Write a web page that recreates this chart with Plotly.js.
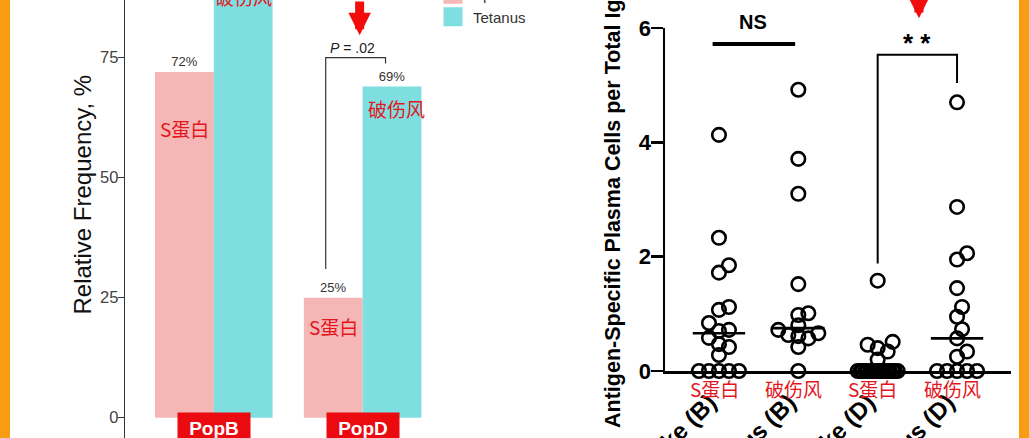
<!DOCTYPE html>
<html>
<head>
<meta charset="utf-8">
<script src="https://cdn.plot.ly/plotly-3.0.1.min.js"></script>
<style>
  html, body { margin: 0; padding: 0; background: #fff; }
  #chart { width: 1029px; height: 438px; }
</style>
</head>
<body>
<div id="chart"></div>
<script>
// left panel: share of donors with detectable antigen-specific cells
const popGroups = ['PopB', 'PopD'];
const spikeFreq = [72, 25];
const tetanusFreq = [93, 69];
const spikeFreqText = ['72%', '25%'];
const tetanusFreqText = ['93%', '69%'];
const pValueText = '<i>P</i> = .02';

// right panel: antigen-specific plasma cells per total Ig
const cellGroups = ['Spike (B)', 'Tetanus (B)', 'Spike (D)', 'Tetanus (D)'];
const spikeB = [4.13, 2.33, 1.85, 1.72, 1.12, 1.07, 0.84, 0.72, 0.70, 0.58, 0.47, 0.42, 0.28, 0, 0, 0, 0, 0];
const tetanusB = [4.92, 3.71, 3.10, 1.52, 1.01, 0.98, 0.80, 0.72, 0.66, 0.63, 0.61, 0.57, 0.42, 0];
const spikeD = [1.58, 0.51, 0.46, 0.40, 0.34, 0.20, 0, 0, 0, 0, 0, 0, 0, 0, 0, 0, 0, 0, 0, 0, 0, 0, 0, 0];
const tetanusD = [4.70, 2.87, 2.06, 1.95, 1.45, 1.12, 0.95, 0.73, 0.57, 0.34, 0.25, 0, 0, 0, 0, 0];
const medianLine = [0.66, 0.75, 0.0, 0.57];
const nsLineY = 5.72;
const starBracketY = 5.53;

// chinese call-outs drawn in red on top of the original figure
const spikeCn = 'S蛋白';
const tetanusCn = '破伤风';

const W = 1029, H = 438;
const RED = '#e3161d';
const CN_FONT = 'Noto Sans CJK SC, Liberation Sans, sans-serif';
const SANS = 'Liberation Sans, Arial, sans-serif';
const PINK = '#f4b7b6', CYAN = '#7edee0';

// left panel value axis
const yRange = [-4.23, 87.02];
// right panel geometry (used for beeswarm spacing in pixels)
const x2Dom = [665 / W, 1011 / W];
const x2Range = [-0.68, 3.68];
const y2Dom = [67 / H, 410 / H];
const y2Range = [0, 6];
const pxPerX = (x2Dom[1] - x2Dom[0]) * W / (x2Range[1] - x2Range[0]);
const pxPerY = (y2Dom[1] - y2Dom[0]) * H / (y2Range[1] - y2Range[0]);

// annotations outside an axis range get hidden, so place those in paper units
const yToPaper = v => (v - yRange[0]) / (yRange[1] - yRange[0]);
const y2ToPaper = v => y2Dom[0] + (v - y2Range[0]) / (y2Range[1] - y2Range[0]) * (y2Dom[1] - y2Dom[0]);

// prism-like dot spread: push a point sideways until it clears its neighbours,
// if no slot is free squeeze it into the widest remaining gap
function swarm(vals) {
    const STEP = 5, MAXOFF = 20, MINDIST = 10;
    const cands = [0];
    for (let k = STEP; k <= MAXOFF; k += STEP) cands.push(k, -k);
    const fine = [0];
    for (let k = 1; k <= MAXOFF; k++) fine.push(k, -k);
    const order = vals.map((v, i) => i).sort((a, b) => vals[a] - vals[b]);
    const placed = [];
    const offs = new Array(vals.length);
    const minDist = (c, y) => placed.reduce((d, p) => Math.min(d, Math.hypot(p[0] - c, p[1] - y)), Infinity);
    order.forEach(i => {
        const y = vals[i] * pxPerY;
        let best = cands.find(c => minDist(c, y) >= MINDIST);
        if (best === undefined) {
            let bestD = -1;
            fine.forEach(c => { const d = minDist(c, y); if (d > bestD) { bestD = d; best = c; } });
        }
        placed.push([best, y]);
        offs[i] = best / pxPerX;
    });
    return offs;
}

const barText = { size: 13, color: '#333', family: SANS };
const traces = [
    { type: 'bar', name: 'Spike', legendgroup: 'spike', showlegend: false, x: popGroups, y: spikeFreq,
      text: spikeFreqText, textposition: 'outside', textfont: barText, marker: { color: PINK }, xaxis: 'x', yaxis: 'y' },
    { type: 'bar', name: 'Tetanus', legendgroup: 'tetanus', showlegend: false, x: popGroups, y: tetanusFreq,
      text: tetanusFreqText, textposition: 'outside', textfont: barText, marker: { color: CYAN }, xaxis: 'x', yaxis: 'y' },
    // legend keys only (bar legend swatches are too small)
    { type: 'scatter', mode: 'markers', name: 'Spike', legendgroup: 'spike', x: [null], y: [null],
      marker: { symbol: 'square', size: 16, color: PINK, line: { width: 3, color: PINK } }, xaxis: 'x', yaxis: 'y' },
    { type: 'scatter', mode: 'markers', name: 'Tetanus', legendgroup: 'tetanus', x: [null], y: [null],
      marker: { symbol: 'square', size: 16, color: CYAN, line: { width: 3, color: CYAN } }, xaxis: 'x', yaxis: 'y' }
];

[spikeB, tetanusB, spikeD, tetanusD].forEach((vals, gi) => {
    const offs = swarm(vals);
    traces.push({
        type: 'scatter', mode: 'markers', showlegend: false, cliponaxis: false,
        x: vals.map((v, i) => gi + offs[i]), y: vals,
        marker: { symbol: 'circle-open', size: 13.5, color: '#000', line: { width: 2.6, color: '#000' } },
        xaxis: 'x2', yaxis: 'y2'
    });
    traces.push({
        type: 'scatter', mode: 'lines', showlegend: false, cliponaxis: false,
        x: [gi - 0.33, gi + 0.33], y: [medianLine[gi], medianLine[gi]],
        line: { color: '#000', width: 2.6 }, xaxis: 'x2', yaxis: 'y2'
    });
});

const bracketTop = Math.max(...tetanusFreq.slice(1)) + 6;
const shapes = [
    // orange frame strips
    { type: 'rect', xref: 'paper', yref: 'paper', x0: 0, x1: 10 / W, y0: 0, y1: 1, fillcolor: '#f89c12', line: { width: 0 } },
    { type: 'rect', xref: 'paper', yref: 'paper', x0: 1019 / W, x1: 1, y0: 0, y1: 1, fillcolor: '#f89c12', line: { width: 0 } },
    // P = .02 bracket
    { type: 'path', xref: 'x', yref: 'y', line: { color: '#333', width: 1.2 },
      path: `M 0.752,${spikeFreq[1] + 6} L 0.752,${bracketTop} L 1.154,${bracketTop} L 1.154,${bracketTop - 1.2}` },
    // NS bar
    { type: 'line', xref: 'x2', yref: 'y2', x0: -0.08, x1: 0.96, y0: nsLineY, y1: nsLineY, line: { color: '#000', width: 4 } },
    // ** bracket
    { type: 'path', xref: 'x2', yref: 'y2', line: { color: '#000', width: 2 },
      path: `M 2,${spikeD[0] + 0.3} L 2,${starBracketY} L 3,${starBracketY} L 3,${tetanusD[0] + 0.34}` }
];

const cnFont = { family: CN_FONT, size: 19, color: RED };
const mid = { xanchor: 'center', yanchor: 'middle', showarrow: false };
const annotations = [
    { ...mid, xref: 'paper', yref: 'paper', x: 82 / W, y: (H - 194.5) / H, text: 'Relative Frequency, %', textangle: -90,
      font: { family: SANS, size: 24, color: '#111' } },
    { ...mid, xref: 'paper', yref: 'paper', x: 613 / W, y: (H - 214) / H, text: 'Antigen-Specific Plasma Cells per Total Ig', textangle: -90,
      font: { family: SANS, size: 21.5, color: '#000', weight: 'bold' } },
    { ...mid, xref: 'x', yref: 'y', x: 0.93, y: 77.1, text: pValueText, font: { family: SANS, size: 14, color: '#222' } },
    { ...mid, xref: 'x', yref: 'y', x: -0.198, y: 60.2, text: spikeCn, font: cnFont },
    { ...mid, xref: 'x', yref: 'paper', x: 0.198, y: yToPaper(87.8), text: tetanusCn, font: cnFont },
    { ...mid, xref: 'x', yref: 'y', x: 0.802, y: 19.0, text: spikeCn, font: cnFont },
    { ...mid, xref: 'x', yref: 'y', x: 1.228, y: 64.4, text: tetanusCn, font: cnFont },
    // red arrows pointing at the comparisons
    { xref: 'x', yref: 'y', x: 0.98, y: 79.7, text: '', showarrow: true, ax: 0, ay: -40,
      arrowhead: 2, arrowwidth: 9, arrowsize: 0.5, arrowcolor: '#f20c0c' },
    { xref: 'x2', yref: 'paper', x: 2.52, y: y2ToPaper(6.17), text: '', showarrow: true, ax: 0, ay: -40,
      arrowhead: 2, arrowwidth: 9, arrowsize: 0.5, arrowcolor: '#f20c0c' },
    { ...mid, xref: 'x2', yref: 'paper', x: 0.43, y: y2ToPaper(6.1), text: 'NS', font: { family: SANS, size: 20, color: '#000', weight: 'bold' } },
    { ...mid, xref: 'x2', yref: 'y2', x: 2.5, y: 5.74, text: '* *', font: { family: SANS, size: 26, color: '#000', weight: 'bold' } }
];
popGroups.forEach((g, i) => {
    annotations.push({ ...mid, xref: 'x', yref: 'paper', x: i, y: (H - 428) / H, text: '<b>' + g + '</b>',
        bgcolor: '#ea0a10', borderpad: 5, width: 62, font: { family: SANS, size: 19, color: '#fff' } });
});
cellGroups.forEach((g, i) => {
    annotations.push({ ...mid, xref: 'x2', yref: 'paper', x: i - 0.06, y: y2ToPaper(-0.31),
        text: i % 2 === 0 ? spikeCn : tetanusCn, font: cnFont });
});

const layout = {
    width: W, height: H,
    margin: { l: 0, r: 0, t: 0, b: 0, autoexpand: false },
    paper_bgcolor: '#fff', plot_bgcolor: 'rgba(0,0,0,0)',
    barmode: 'group', bargap: 0.21, bargroupgap: 0,
    showlegend: true,
    legend: { x: 433 / W, xanchor: 'left', y: 1.05, yanchor: 'top', bgcolor: 'rgba(0,0,0,0)',
              font: { family: SANS, size: 15, color: '#333' }, tracegroupgap: 0 },
    xaxis: { domain: [125 / W, 437 / W], range: [-0.597, 1.5], type: 'category', anchor: 'y',
             showticklabels: false, ticks: '', showline: false, showgrid: false, zeroline: false },
    yaxis: { domain: [0, 1], range: yRange, anchor: 'x', tickvals: [0, 25, 50, 75],
             ticks: 'outside', ticklen: 6, tickwidth: 1.3, tickcolor: '#333', ticklabelstandoff: -4,
             showline: true, linecolor: '#333', linewidth: 1.3, showgrid: false, zeroline: false,
             tickfont: { family: SANS, size: 16.5, color: '#444' } },
    // trailing no-break spaces slide the slanted labels down-left a little
    xaxis2: { domain: x2Dom, range: x2Range, anchor: 'y2', tickvals: [0, 1, 2, 3],
              ticktext: cellGroups.map(g => g + '\u00a0\u00a0'),
              tickangle: -45, ticks: '', ticklabelstandoff: -4, showline: true, linecolor: '#000', linewidth: 2.5,
              showgrid: false, zeroline: false, tickfont: { family: SANS, size: 24, color: '#000', weight: 'bold' } },
    yaxis2: { domain: y2Dom, range: y2Range, anchor: 'x2', tickvals: [0, 2, 4, 6],
              ticks: 'outside', ticklen: 12, tickwidth: 2.5, tickcolor: '#000', ticklabelstandoff: -5,
              showline: true, linecolor: '#000', linewidth: 2.5, showgrid: false, zeroline: false,
              tickfont: { family: SANS, size: 22, color: '#000', weight: 'bold' } },
    shapes: shapes,
    annotations: annotations
};

Plotly.newPlot('chart', traces, layout, { displayModeBar: false, staticPlot: true });
</script>
</body>
</html>
